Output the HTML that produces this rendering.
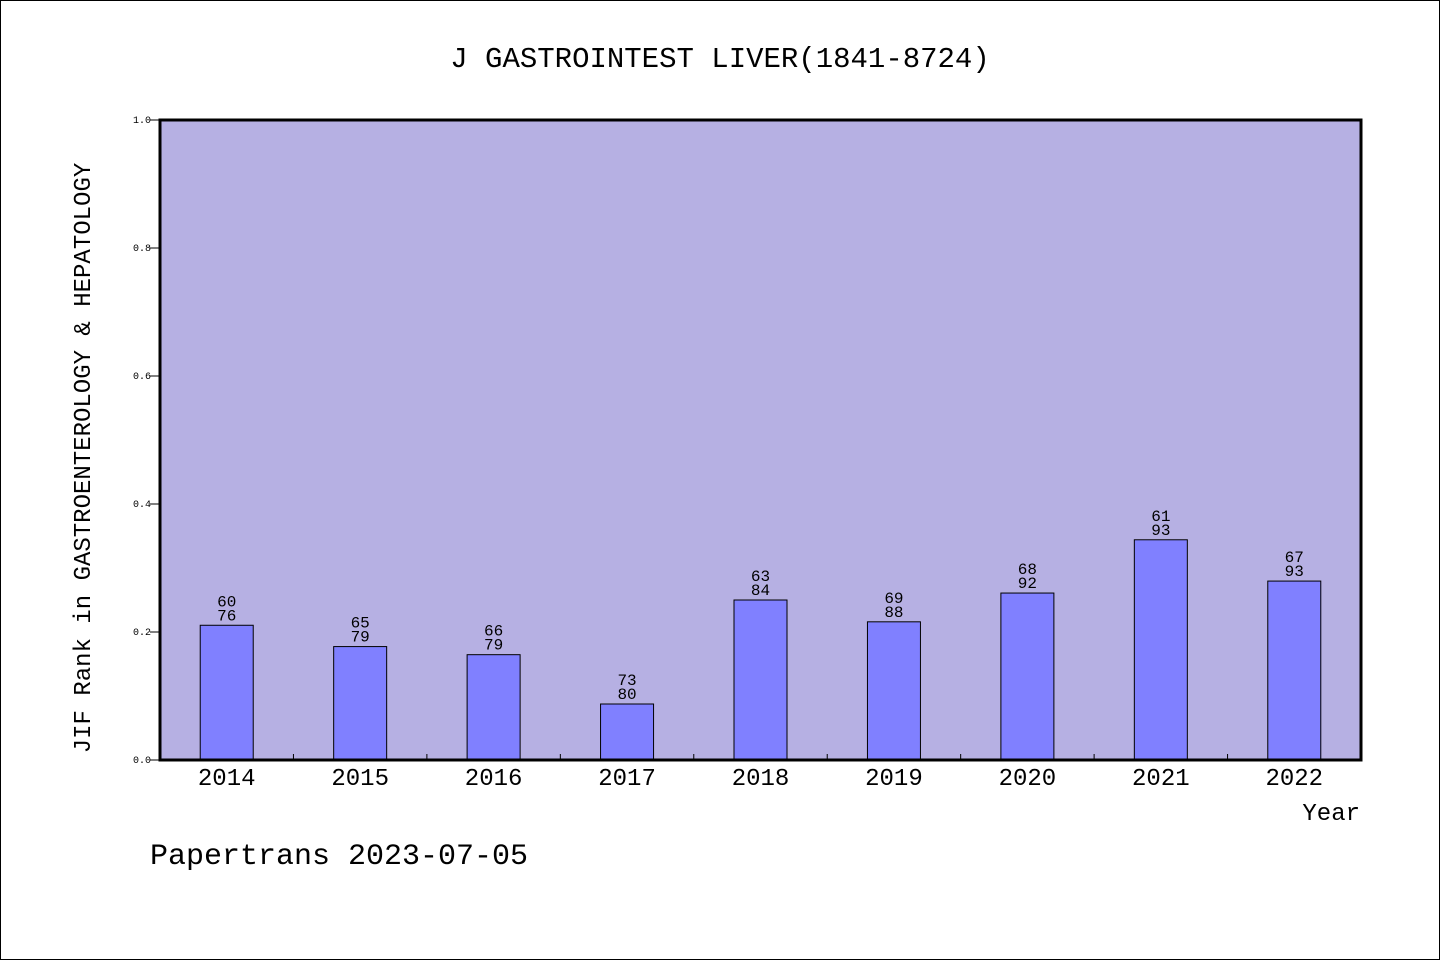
<!DOCTYPE html>
<html><head><meta charset="utf-8"><style>
html,body{margin:0;padding:0;background:#fff}
svg text{font-family:"WenQuanYi Zen Hei Mono","Liberation Mono",monospace;fill:#000}
</style></head><body>
<svg id="chart" width="1440" height="960" xmlns="http://www.w3.org/2000/svg">
<rect x="0.5" y="0.5" width="1439" height="959" fill="#fff" stroke="#000"/>
<text x="720" y="67" font-size="29" text-anchor="middle">J GASTROINTEST LIVER(1841-8724)</text>
<rect x="160" y="120" width="1201" height="640" fill="#b6b0e3"/>
<g id="yaxis"></g>
<g id="bars"></g>
<g id="xaxis"></g>
<rect x="160" y="120" width="1201" height="640" fill="none" stroke="#000" stroke-width="3"/>
<text transform="translate(90,458) rotate(-90)" font-size="24" text-anchor="middle">JIF Rank in GASTROENTEROLOGY &amp; HEPATOLOGY</text>
<text x="1360" y="820" font-size="24" text-anchor="end">Year</text>
<text x="150" y="864" font-size="30">Papertrans 2023-07-05</text>
</svg>
<script>
const years = ["2014","2015","2016","2017","2018","2019","2020","2021","2022"];
const ranks = [60,65,66,73,63,69,68,61,67];
const totals = [76,79,79,80,84,88,92,93,93];
const yTicks = [0,0.2,0.4,0.6,0.8,1.0];
const NS="http://www.w3.org/2000/svg";
const X0=160,W=1201,Y0=760,H=640;
const band=W/years.length;
const xc=i=>X0+band*(i+0.5);
const y=v=>Y0-v*H;
function mk(tag,attrs,parent){const e=document.createElementNS(NS,tag);for(const k in attrs)e.setAttribute(k,attrs[k]);parent.appendChild(e);return e;}
const ya=document.getElementById('yaxis'),bg=document.getElementById('bars'),xa=document.getElementById('xaxis');
yTicks.forEach(t=>{
  const l=mk('line',{x1:150,x2:160,y1:y(t),y2:y(t),stroke:'#000'},ya);
  
  
  const tx=mk('text',{x:151,y:y(t)+3,'font-size':10,'text-anchor':'end'},ya);
  tx.textContent=t.toFixed(1);
  
  
});
years.forEach((yr,i)=>{
  const v=1-ranks[i]/totals[i];
  const r=mk('rect',{x:xc(i)-26.5,y:y(v),width:53,height:Y0-y(v),fill:'#8080ff',stroke:'#000','stroke-width':1},bg);
  
  
  const t1=mk('text',{x:xc(i),y:y(v)-19,'font-size':16,'text-anchor':'middle'},bg);
  t1.textContent=ranks[i];
  
  
  const t2=mk('text',{x:xc(i),y:y(v)-5,'font-size':16,'text-anchor':'middle'},bg);
  t2.textContent=totals[i];
  
  
  const xl=mk('text',{x:xc(i),y:785,'font-size':24,'text-anchor':'middle'},xa);
  xl.textContent=yr;
  
  
  if(i>0){
    const tk=mk('line',{x1:X0+band*i,x2:X0+band*i,y1:754,y2:760,stroke:'#000'},xa);
    
    
  }
});
</script>
</body></html>
